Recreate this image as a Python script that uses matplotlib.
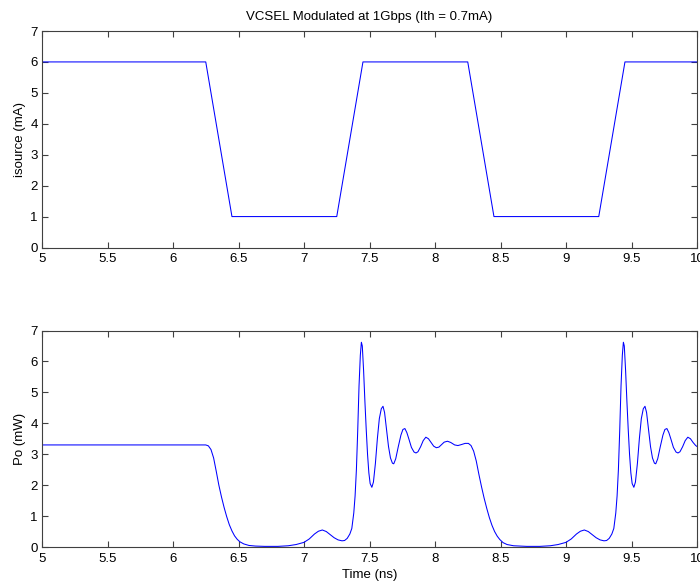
import matplotlib
matplotlib.use("Agg")
import matplotlib.pyplot as plt
from matplotlib.ticker import FuncFormatter

plt.rcParams['font.family'] = ['Liberation Sans', 'DejaVu Sans']

# ---- data ----
t_src = [5.0, 6.25, 6.45, 7.25, 7.45, 8.25, 8.45, 9.25, 9.45, 10.0]
i_src = [6, 6, 1, 1, 6, 6, 1, 1, 6, 6]

t_po = [5.00, 6.25, 6.27, 6.29, 6.31, 6.33, 6.35, 6.37, 6.39, 6.41, 6.43, 6.45, 6.47, 6.49,
        6.51, 6.54, 6.58, 6.63, 6.70, 6.80, 6.88, 6.94, 7.00, 7.04, 7.08, 7.11, 7.14, 7.17,
        7.20, 7.23, 7.26, 7.29, 7.31, 7.33, 7.35, 7.365, 7.38, 7.39, 7.40, 7.41, 7.42, 7.43,
        7.438, 7.445, 7.455, 7.465, 7.475, 7.485, 7.495, 7.505, 7.518, 7.53, 7.545, 7.56,
        7.575, 7.59, 7.603, 7.615, 7.63, 7.645, 7.66, 7.675, 7.685, 7.70, 7.72, 7.74, 7.755,
        7.77, 7.785, 7.80, 7.82, 7.84, 7.855, 7.87, 7.89, 7.91, 7.93, 7.95, 7.97, 7.99, 8.01,
        8.03, 8.05, 8.07, 8.095, 8.12, 8.15, 8.175, 8.20, 8.23, 8.255, 8.275, 8.295, 8.315,
        8.335, 8.355, 8.375, 8.395, 8.415, 8.435, 8.455, 8.475, 8.495, 8.52, 8.55, 8.60,
        8.70, 8.80, 8.88, 8.94, 9.00, 9.04, 9.08, 9.11, 9.14, 9.17, 9.20, 9.23, 9.26, 9.29,
        9.31, 9.33, 9.35, 9.365, 9.38, 9.39, 9.40, 9.41, 9.42, 9.43, 9.438, 9.445, 9.455,
        9.465, 9.475, 9.485, 9.495, 9.505, 9.518, 9.53, 9.545, 9.56, 9.575, 9.59, 9.603,
        9.615, 9.63, 9.645, 9.66, 9.675, 9.685, 9.70, 9.72, 9.74, 9.755, 9.77, 9.785, 9.80,
        9.82, 9.84, 9.855, 9.87, 9.89, 9.91, 9.93, 9.95, 9.97, 9.99, 10.0]
po = [3.30, 3.30, 3.27, 3.15, 2.88, 2.45, 2.00, 1.62, 1.28, 0.98, 0.72, 0.52, 0.36, 0.25,
      0.17, 0.10, 0.05, 0.03, 0.02, 0.02, 0.04, 0.08, 0.15, 0.26, 0.42, 0.51, 0.55, 0.50,
      0.40, 0.30, 0.23, 0.20, 0.21, 0.28, 0.42, 0.60, 1.10, 1.65, 2.50, 3.75, 5.20, 6.20,
      6.62, 6.50, 5.70, 4.70, 3.80, 3.00, 2.40, 2.05, 1.93, 2.10, 2.70, 3.50,
      4.15, 4.47, 4.55, 4.35, 3.80, 3.25, 2.88, 2.71, 2.69, 2.85, 3.25, 3.62, 3.80,
      3.83, 3.70, 3.50, 3.22, 3.07, 3.04, 3.08, 3.24, 3.44, 3.55, 3.50, 3.38, 3.26, 3.21,
      3.23, 3.31, 3.39, 3.42, 3.38, 3.30, 3.28, 3.31, 3.35, 3.35, 3.28, 3.10, 2.78,
      2.35, 1.95, 1.58, 1.25, 0.95, 0.70, 0.50, 0.35, 0.24, 0.14, 0.08, 0.04,
      0.02, 0.02, 0.04, 0.08, 0.15, 0.26, 0.42, 0.51, 0.55, 0.50, 0.40, 0.30, 0.23, 0.20,
      0.21, 0.28, 0.42, 0.60, 1.10, 1.65, 2.50, 3.75, 5.20, 6.20, 6.62, 6.50, 5.70,
      4.70, 3.80, 3.00, 2.40, 2.05, 1.93, 2.10, 2.70, 3.50, 4.15, 4.47, 4.55,
      4.35, 3.80, 3.25, 2.88, 2.71, 2.69, 2.85, 3.25, 3.62, 3.80, 3.83, 3.70, 3.50,
      3.22, 3.07, 3.04, 3.08, 3.24, 3.44, 3.55, 3.50, 3.38, 3.28, 3.25]

x_ticks = [5, 5.5, 6, 6.5, 7, 7.5, 8, 8.5, 9, 9.5, 10]
y_ticks = [0, 1, 2, 3, 4, 5, 6, 7]

title = "VCSEL Modulated at 1Gbps (Ith = 0.7mA)"

W, H = 700, 583
fig = plt.figure(figsize=(W / 100, H / 100), dpi=100)

left = 42 / W
width = (697 - 42) / W
ax1 = fig.add_axes([left, 1 - 247.5 / H, width, (247.5 - 31) / H])
ax2 = fig.add_axes([left, 1 - 547 / H, width, (547 - 330.5) / H])

fmt = FuncFormatter(lambda v, p: ('%g' % v))
for ax in (ax1, ax2):
    ax.set_xlim(5, 10)
    ax.set_ylim(0, 7)
    ax.set_xticks(x_ticks)
    ax.set_yticks(y_ticks)
    ax.xaxis.set_major_formatter(fmt)
    ax.yaxis.set_major_formatter(fmt)
    ax.tick_params(direction='in', top=True, right=True, length=4.5, width=0.8,
                   labelsize=9.5, color='#404040', pad=3)
    ax.tick_params(axis='x', pad=4)
    for s in ax.spines.values():
        s.set_color('#404040')
        s.set_linewidth(0.8)

ax1.plot(t_src, i_src, color='#0000ff', linewidth=0.75)
ax2.plot(t_po, po, color='#0000ff', linewidth=0.75)

ax1.set_ylabel('isource (mA)', fontsize=9.5, labelpad=3)
ax2.set_ylabel('Po (mW)', fontsize=9.5, labelpad=3)
ax2.set_xlabel('Time (ns)', fontsize=9.5, labelpad=3)
ax1.set_title(title, fontsize=9.5, pad=8)

fig.savefig('out.png', dpi=100)
